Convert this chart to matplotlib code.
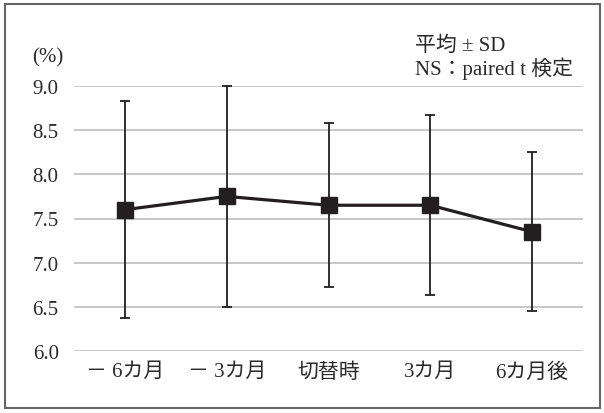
import matplotlib
matplotlib.use("Agg")
import matplotlib.pyplot as plt
from matplotlib.patches import Rectangle

plt.rcParams['font.family'] = ['Liberation Serif', 'Noto Sans CJK JP']

categories = ['－ 6カ月', '－ 3カ月', '切替時', '3カ月', '6カ月後']
means = [7.60, 7.75, 7.65, 7.65, 7.35]
sds = [1.23, 1.25, 0.93, 1.02, 0.90]
yticks = [6.0, 6.5, 7.0, 7.5, 8.0, 8.5, 9.0]
ytick_labels = ['6.0', '6.5', '7.0', '7.5', '8.0', '8.5', '9.0']

W, H = 604, 414
fig = plt.figure(figsize=(W/100, H/100), dpi=100)
ax = fig.add_axes([74/W, 1-352/H, (583-74)/W, (352-87)/H])

x = list(range(len(categories)))
ink = '#231f20'
txt = '#2a2a2a'
eb = ax.errorbar(x, means, yerr=sds, fmt='none', ecolor=ink, elinewidth=1.3,
                 capsize=3.5, capthick=1.3, zorder=3)
for art in list(eb.lines[1]) + list(eb.lines[2]):
    art.set_clip_on(False)
ax.plot(x, means, color=ink, lw=2.3, marker='s', markersize=11.5, zorder=4,
        clip_on=False)

ax.set_xlim(-0.5, len(categories)-0.5)
ax.set_ylim(6.0, 9.0)
ax.set_yticks(yticks)
ax.set_yticklabels(ytick_labels)
ax.set_xticks(x)
ax.set_xticklabels(categories)
ax.tick_params(axis='both', length=0, labelsize=15, colors=txt, pad=8)
ax.tick_params(axis='y', pad=11)
ax.grid(axis='y', color='#b8b8b8', lw=1.1)
ax.set_axisbelow(True)
for s in ax.spines.values():
    s.set_visible(False)

fig.text(32/W, 1-58/H, '(%)', fontsize=15, color=txt, va='center', ha='left')
fig.text(415/W, 1-46/H, '平均 ± SD', fontsize=15, color=txt, va='center', ha='left')
fig.text(415/W, 1-69/H, 'NS：paired t 検定', fontsize=15, color=txt, va='center', ha='left')

fig.patches.append(Rectangle((5/W, 5/H), 595/W, 404/H, transform=fig.transFigure,
                             fill=False, edgecolor='#666666', lw=1.5))

fig.savefig('out.png', dpi=100)
